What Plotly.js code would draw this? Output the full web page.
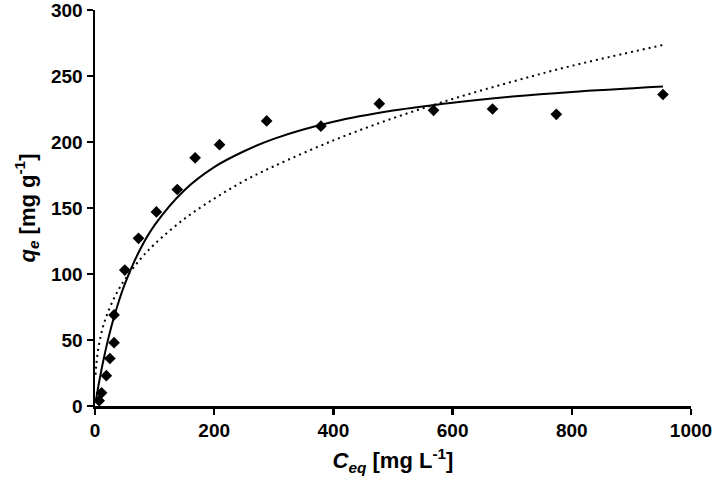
<!DOCTYPE html>
<html>
<head>
<meta charset="utf-8">
<script src="https://cdn.plot.ly/plotly-3.0.1.min.js"></script>
<style>
  html, body { margin: 0; padding: 0; background: #fff; }
  #chart { width: 716px; height: 482px; }
</style>
</head>
<body>
<div id="chart"></div>
<script>
// Measured points (Ceq in mg/L, qe in mg/g)
const ceqData = [7, 11, 19, 25, 32, 32, 50, 73, 103, 138, 168, 209, 288, 379, 477, 568, 667, 774, 953];
const qeData = [4, 10, 23, 36, 48, 69, 103, 127, 147, 164, 188, 198, 216, 212, 229, 224, 225, 221, 236];

// Fitted curves
const fitCeq = [1, 2, 5, 10, 15, 20, 30, 40, 50, 75, 100, 150, 200, 250, 300, 400, 500, 600, 700, 800, 953];
const solidFit = [2.8, 5.6, 13.4, 25.6, 36.6, 46.7, 64.4, 79.4, 92.4, 118, 137, 163.5, 181, 193, 202.4, 215.3, 223.8, 229.8, 234.4, 237.9, 242];
const dottedFit = [23.7, 30.4, 42.1, 53.9, 62.5, 69.1, 79.8, 88.5, 95.8, 110.7, 122.7, 141.8, 157.1, 170.5, 181.6, 201.2, 218, 232.6, 245.7, 257.7, 273.5];

const xTicks = [0, 200, 400, 600, 800, 1000];
const yTicks = [0, 50, 100, 150, 200, 250, 300];

const fontFamily = 'Arial, "Liberation Sans", sans-serif';

const dotted = {
  x: fitCeq,
  y: dottedFit,
  type: 'scatter',
  mode: 'lines',
  line: { color: 'black', width: 2, dash: '2px,4px', shape: 'spline' },
  hoverinfo: 'skip',
  showlegend: false
};

const solid = {
  x: fitCeq,
  y: solidFit,
  type: 'scatter',
  mode: 'lines',
  line: { color: 'black', width: 2, shape: 'spline' },
  hoverinfo: 'skip',
  showlegend: false
};

const points = {
  x: ceqData,
  y: qeData,
  type: 'scatter',
  mode: 'markers',
  marker: { symbol: 'diamond', color: 'black', size: 9 },
  showlegend: false
};

const axisCommon = {
  showgrid: false,
  zeroline: false,
  showline: true,
  linecolor: 'black',
  linewidth: 2.5,
  ticks: 'outside',
  ticklen: 6,
  tickwidth: 2.5,
  tickcolor: 'black',
  ticklabeloverflow: 'allow',
  tickfont: { family: fontFamily, size: 19, color: 'black' }
};

const layout = {
  width: 716,
  height: 482,
  paper_bgcolor: '#FFFFFF',
  plot_bgcolor: '#FFFFFF',
  margin: { l: 95, r: 25, t: 10, b: 76 },
  showlegend: false,
  xaxis: Object.assign({}, axisCommon, {
    range: [0, 1000],
    tickvals: xTicks,
    ticktext: xTicks.map(t => '<b>' + t + '</b>'),
    title: {
      text: '<b><i>C</i><sub><i>eq</i></sub> [mg L<sup>-1</sup>]</b>',
      font: { family: fontFamily, size: 22, color: 'black' },
      standoff: 13
    }
  }),
  yaxis: Object.assign({}, axisCommon, {
    range: [0, 300],
    tickvals: yTicks,
    ticktext: yTicks.map(t => '<b>' + t + '</b>'),
    title: {
      text: '<b><i>q</i><sub><i>e</i></sub> [mg g<sup>-1</sup>]</b>',
      font: { family: fontFamily, size: 22, color: 'black' },
      standoff: 10
    }
  })
};

Plotly.newPlot('chart', [dotted, solid, points], layout, { displayModeBar: false, staticPlot: true });
</script>
</body>
</html>
